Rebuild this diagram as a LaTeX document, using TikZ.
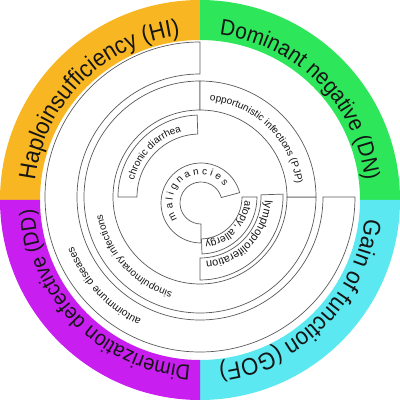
\documentclass[tikz,border=0pt]{standalone}
\usepackage{fontspec}
\setmainfont{Liberation Sans}
\newfontfamily\bandfamily[FakeStretch=0.92]{Liberation Sans}
\usepackage{tikz}
\usetikzlibrary{calc,decorations.text}
\definecolor{hiorange}{HTML}{F8B722}
\definecolor{dngreen}{HTML}{2EE65A}
\definecolor{gofcyan}{HTML}{5BE8F0}
\definecolor{ddmagenta}{HTML}{C81EF0}
\definecolor{segline}{HTML}{5A5A5A}
\definecolor{labink}{HTML}{151515}
\tikzset{
  segment/.style  ={draw=segline, line width=0.7pt, fill=white},
  band/.style     ={draw=none},
  bandtext/.style 2 args={decorate, decoration={text along path, text align=center,
                   text color=labink, text={|\bandfamily\fontsize{#1}{#1}\selectfont|#2}}},
  ringtext/.style 2 args={decorate, decoration={text along path, text align=center,
                   text color=labink, text={|\fontsize{#1}{#1}\selectfont|#2}}},
}
% annular piece: centre, from angle, to angle, inner radius, outer radius
\newcommand{\ringseg}[6][segment]{%
  \path[#1] ($(#2)+(#3:#5pt)$) arc[start angle=#3, end angle=#4, radius=#5pt]
    -- ($(#2)+(#4:#6pt)$) arc[start angle=#4, end angle=#3, radius=#6pt] -- cycle;}

\begin{document}
\begin{tikzpicture}[x=1pt, y=1pt]
  \useasboundingbox (0,0) rectangle (400,400);
  \coordinate (O) at (200,200); % coloured band
  \coordinate (C) at (200,203); % rings
  \coordinate (M) at (201,197); % malignancies

  % coloured band
  \ringseg[band, fill=hiorange]{O}{90}{180}{160}{200}
  \ringseg[band, fill=dngreen]{O}{0}{90}{160}{200}
  \ringseg[band, fill=gofcyan]{O}{-90}{0}{160}{200}
  \ringseg[band, fill=ddmagenta]{O}{180}{270}{160}{200}

  % rings
  \ringseg{C}{90}{360}{123}{155}
  \ringseg{C}{90}{360}{87}{116}
  \ringseg{C}{0}{90}{87}{116}
  \ringseg{C}{92}{180}{63}{82}
  \ringseg{C}{-90}{2}{61}{83}
  \ringseg{C}{-88}{0}{42}{57}
  \ringseg{M}{15}{270}{21}{40}

  % band labels
  \path[bandtext={24}{Haploinsufficiency (HI)}] ($(O)+(180:166pt)$) arc[start angle=180, end angle=90, radius=166pt];
  \path[bandtext={22.5}{Dominant negative (DN)}] ($(O)+(90:166pt)$) arc[start angle=90, end angle=0, radius=166pt];
  \path[bandtext={24}{Gain of function (GOF)}] ($(O)+(0:166pt)$) arc[start angle=0, end angle=-90, radius=166pt];
  \path[bandtext={21.5}{Dimerization defective (DD)}] ($(O)+(270:166pt)$) arc[start angle=270, end angle=180, radius=166pt];

  % ring labels
  \path[ringtext={10.5}{autoimmune diseases}] ($(C)+(270:136pt)$) arc[start angle=270, end angle=176, radius=136pt];
  \path[ringtext={10}{sinopulmonary infections}] ($(C)+(264:99pt)$) arc[start angle=264, end angle=180, radius=99pt];
  \path[ringtext={10}{opportunistic infections (PJP)}] ($(C)+(91:97pt)$) arc[start angle=91, end angle=1, radius=97pt];
  \path[ringtext={10}{chronic diarrhea}] ($(C)+(180:68pt)$) arc[start angle=180, end angle=92, radius=68pt];
  \path[ringtext={11}{lymphoproliferation}] ($(C)+(2:65pt)$) arc[start angle=2, end angle=-90, radius=65pt];
  \path[ringtext={10.5}{atopy, allergy}] ($(C)+(0:45pt)$) arc[start angle=0, end angle=-88, radius=45pt];
  \path[ringtext={10}{m a l i g n a n c i e s}] ($(M)+(260:28.5pt)$) arc[start angle=260, end angle=-10, radius=28.5pt];
\end{tikzpicture}
\end{document}
